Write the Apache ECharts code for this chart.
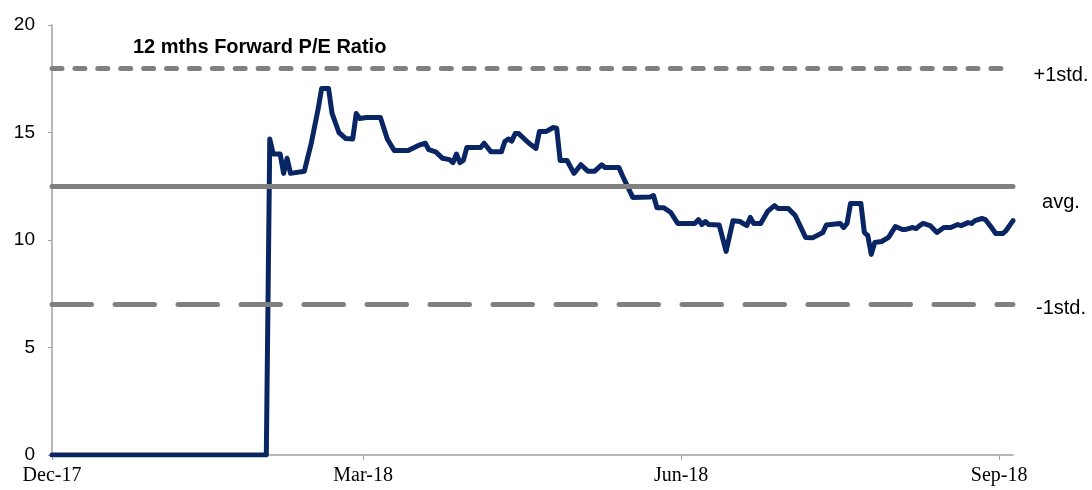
<!DOCTYPE html>
<html>
<head>
<meta charset="utf-8">
<script src="https://cdn.jsdelivr.net/npm/echarts@6/dist/echarts.min.js"></script>
<style>
  html, body { margin: 0; padding: 0; background: #fff; }
  #chart { width: 1092px; height: 490px; }
</style>
</head>
<body>
<div id="chart"></div>
<script>
// 12-month forward P/E ratio, with long-run average and +/- 1 standard deviation bands
const dates = [
  '2017-12-01','2018-02-01','2018-02-02','2018-02-03','2018-02-05','2018-02-06','2018-02-07','2018-02-08',
  '2018-02-12','2018-02-14','2018-02-16','2018-02-17','2018-02-19','2018-02-20','2018-02-22','2018-02-24',
  '2018-02-26','2018-02-27','2018-02-28','2018-03-02','2018-03-06','2018-03-08','2018-03-10','2018-03-14',
  '2018-03-17','2018-03-19','2018-03-20','2018-03-22','2018-03-24','2018-03-26','2018-03-27','2018-03-28',
  '2018-03-29','2018-03-30','2018-03-31','2018-04-04','2018-04-05','2018-04-07','2018-04-10','2018-04-11',
  '2018-04-12','2018-04-13','2018-04-14','2018-04-15','2018-04-18','2018-04-20','2018-04-21','2018-04-23',
  '2018-04-25','2018-04-26','2018-04-27','2018-04-29','2018-05-01','2018-05-03','2018-05-05','2018-05-07',
  '2018-05-09','2018-05-10','2018-05-14','2018-05-15','2018-05-18','2018-05-23','2018-05-24','2018-05-25',
  '2018-05-27','2018-05-29','2018-05-31','2018-06-05','2018-06-06','2018-06-07','2018-06-08','2018-06-09',
  '2018-06-12','2018-06-14','2018-06-16','2018-06-18','2018-06-20','2018-06-21','2018-06-22','2018-06-24',
  '2018-06-26','2018-06-28','2018-06-29','2018-07-02','2018-07-04','2018-07-07','2018-07-09','2018-07-12',
  '2018-07-13','2018-07-17','2018-07-18','2018-07-19','2018-07-20','2018-07-23','2018-07-24','2018-07-25',
  '2018-07-26','2018-07-27','2018-07-29','2018-07-31','2018-08-02','2018-08-04','2018-08-05','2018-08-07',
  '2018-08-08','2018-08-09','2018-08-10','2018-08-12','2018-08-14','2018-08-16','2018-08-18','2018-08-20',
  '2018-08-21','2018-08-23','2018-08-24','2018-08-25','2018-08-27','2018-08-28','2018-08-30','2018-08-31',
  '2018-09-02','2018-09-03','2018-09-05'
];
const peRatio = [
  0, 0, 14.7, 14.0, 14.0, 13.1, 13.8, 13.1,
  13.2, 14.5, 16.1, 17.05, 17.05, 15.9, 15.0, 14.72,
  14.7, 15.88, 15.65, 15.7, 15.7, 14.7, 14.16, 14.16,
  14.4, 14.5, 14.2, 14.1, 13.8, 13.74, 13.6, 14.0,
  13.6, 13.7, 14.3, 14.3, 14.5, 14.1, 14.1, 14.58,
  14.7, 14.6, 14.95, 14.95, 14.5, 14.26, 15.05, 15.05,
  15.23, 15.2, 13.7, 13.7, 13.1, 13.5, 13.2, 13.2,
  13.5, 13.37, 13.37, 13.0, 11.98, 12.0, 12.07, 11.5,
  11.5, 11.28, 10.77, 10.77, 10.95, 10.72, 10.86, 10.72,
  10.7, 9.47, 10.9, 10.86, 10.67, 11.05, 10.77, 10.77,
  11.33, 11.6, 11.47, 11.47, 11.14, 10.12, 10.1, 10.35,
  10.7, 10.77, 10.58, 10.77, 11.7, 11.7, 10.35, 10.2,
  9.33, 9.88, 9.93, 10.12, 10.63, 10.49, 10.49, 10.58,
  10.53, 10.67, 10.77, 10.67, 10.35, 10.58, 10.58, 10.72,
  10.67, 10.81, 10.77, 10.9, 11.0, 10.95, 10.53, 10.3,
  10.3, 10.44, 10.9
];
const average = 12.5;
const plusStd = 18;
const minusStd = 7;
const tickDates = ['2017-12-01', '2018-03-01', '2018-06-01', '2018-09-01'];
const axisStart = '2017-12-01';
const axisEnd = '2018-09-05';
const monthNames = ['Jan','Feb','Mar','Apr','May','Jun','Jul','Aug','Sep','Oct','Nov','Dec'];

// Dates are plotted as local-midnight timestamps on a numeric axis
const toTime = s => {
  const p = s.split('-').map(Number);
  return new Date(p[0], p[1] - 1, p[2]).getTime();
};
const tickValues = tickDates.map(toTime);
const axisMin = toTime(axisStart);
const axisMax = toTime(axisEnd);

const chart = echarts.init(document.getElementById('chart'), null, { renderer: 'canvas' });

const refLine = (value, type, width) => ({
  yAxis: value,
  lineStyle: { color: '#808080', width: width, type: type, cap: 'round' }
});

chart.setOption({
  animation: false,
  backgroundColor: '#ffffff',
  title: {
    text: '12 mths Forward P/E Ratio',
    left: 133, top: 37, padding: 0,
    textStyle: { fontFamily: 'Liberation Sans, Arial, sans-serif', fontSize: 20, fontWeight: 'bold', color: '#000' }
  },
  grid: { left: 52, right: 79, top: 25, bottom: 35 },
  xAxis: {
    type: 'value',
    min: axisMin,
    max: axisMax,
    axisLine: { lineStyle: { color: '#a0a0a0', width: 1.5 } },
    axisTick: { show: true, length: 5, customValues: tickValues, lineStyle: { color: '#a0a0a0' } },
    axisLabel: {
      customValues: tickValues,
      margin: 11,
      fontFamily: 'Liberation Serif, Times New Roman, serif',
      fontSize: 20,
      color: '#000',
      formatter: v => {
        const d = new Date(v);
        return monthNames[d.getMonth()] + '-' + String(d.getFullYear()).slice(2);
      }
    },
    splitLine: { show: false }
  },
  yAxis: {
    type: 'value',
    min: 0, max: 20, interval: 5,
    axisLine: { show: true, lineStyle: { color: '#a0a0a0', width: 1.5 } },
    axisTick: { show: true, length: 4, lineStyle: { color: '#a0a0a0' } },
    axisLabel: { margin: 17, fontFamily: 'Liberation Sans, Arial, sans-serif', fontSize: 19, color: '#000' },
    splitLine: { show: false }
  },
  series: [{
    type: 'line',
    data: dates.map((d, i) => [toTime(d), peRatio[i]]),
    showSymbol: false,
    lineStyle: { color: '#0a2564', width: 5, join: 'round', cap: 'round' },
    z: 2,
    markLine: {
      silent: true,
      symbol: 'none',
      z: 3,
      label: { show: false },
      data: [
        refLine(plusStd, [10, 12.9], 5),
        refLine(average, 'solid', 5),
        refLine(minusStd, [39.5, 23.5], 5)
      ]
    }
  }]
});

// Band labels to the right of the plot, placed from the band values
const xRight = chart.convertToPixel({ gridIndex: 0 }, [axisMax, 0])[0];
const bandLabels = [
  { text: '+1std.', value: plusStd, dy: 7 },
  { text: 'avg.', value: average, dy: 16 },
  { text: '-1std.', value: minusStd, dy: 4 }
];
chart.setOption({
  graphic: bandLabels.map(b => ({
    type: 'text',
    x: xRight + 48,
    y: chart.convertToPixel({ gridIndex: 0 }, [axisMax, b.value])[1] + b.dy,
    style: {
      text: b.text,
      fill: '#000',
      font: '20px "Liberation Sans", Arial, sans-serif',
      align: 'center',
      verticalAlign: 'middle'
    }
  }))
});
</script>
</body>
</html>
